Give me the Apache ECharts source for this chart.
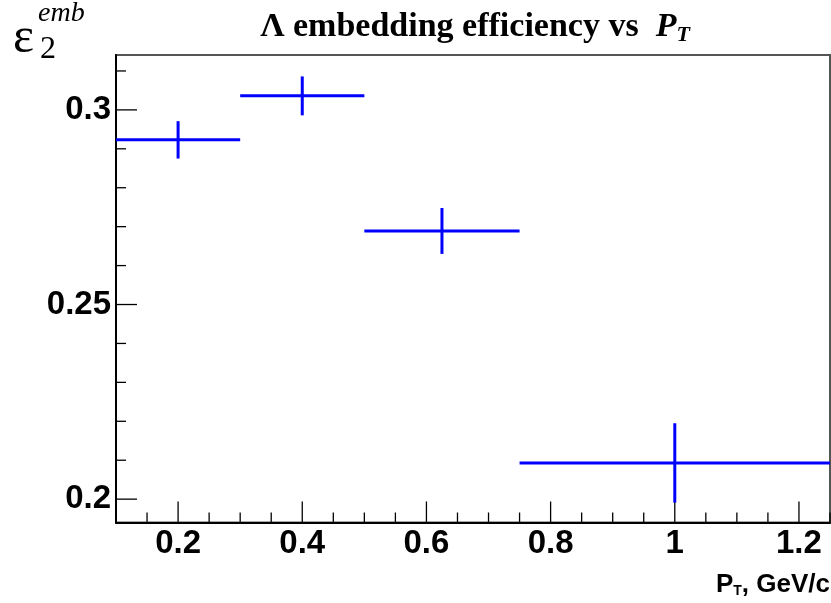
<!DOCTYPE html>
<html>
<head>
<meta charset="utf-8">
<script src="https://cdn.jsdelivr.net/npm/echarts@6/dist/echarts.min.js"></script>
<style>
html,body{margin:0;padding:0;background:#fff;}
#c{width:831px;height:603px;}
</style>
</head>
<body>
<div id="c"></div>
<script>
// ---- data ----
const binLow    = [0.1, 0.3, 0.5, 0.75];
const binHigh   = [0.3, 0.5, 0.75, 1.25];
const binCenter = [0.2, 0.4, 0.625, 1.0];
const effValues = [0.2923, 0.3036, 0.2689, 0.2093];
const effErrors = [0.0048, 0.0050, 0.0059, 0.0102];

const xMin = 0.1, xMax = 1.25;
const yMin = 0.194, yMax = 0.3141;

const xMajorTicks = [0.2, 0.4, 0.6, 0.8, 1.0, 1.2];
const xMinorTicks = [0.15, 0.25, 0.3, 0.35, 0.45, 0.5, 0.55, 0.65, 0.7, 0.75, 0.85, 0.9, 0.95, 1.05, 1.1, 1.15, 1.25];
const yMajorTicks = [0.2, 0.25, 0.3];
const yMinorTicks = [0.21, 0.22, 0.23, 0.24, 0.26, 0.27, 0.28, 0.29, 0.31];

const chart = echarts.init(document.getElementById('c'));

const points = binLow.map((l, i) => [l, binHigh[i], binCenter[i], effValues[i], effErrors[i]]);
const tickData = []
  .concat(xMajorTicks.map(v => [v, 0, 21]))
  .concat(xMinorTicks.map(v => [v, 0, 10]))
  .concat(yMajorTicks.map(v => [v, 1, 21]))
  .concat(yMinorTicks.map(v => [v, 1, 10]));

const blue = '#0000ff';

chart.setOption({
  animation: false,
  backgroundColor: '#ffffff',
  grid: {
    left: 116, right: 1, top: 55, bottom: 80.5,
    show: true, borderColor: '#555', borderWidth: 2, backgroundColor: 'transparent'
  },
  xAxis: {
    type: 'value', min: xMin, max: xMax, splitNumber: 5,
    axisLine: { show: true, onZero: false, lineStyle: { color: '#000', width: 2 } },
    axisTick: { show: false },
    splitLine: { show: false },
    axisLabel: {
      showMinLabel: false, showMaxLabel: false, margin: 5,
      color: '#000', fontFamily: 'Liberation Sans', fontWeight: 'bold', fontSize: 33,
      formatter: v => xMajorTicks.some(t => Math.abs(t - v) < 1e-6) ? String(+v.toFixed(2)) : ''
    }
  },
  yAxis: {
    type: 'value', min: yMin, max: yMax, splitNumber: 2,
    axisLine: { show: true, onZero: false, lineStyle: { color: '#000', width: 2 } },
    axisTick: { show: false },
    splitLine: { show: false },
    axisLabel: {
      showMinLabel: false, showMaxLabel: false, margin: 5,
      color: '#000', fontFamily: 'Liberation Sans', fontWeight: 'bold', fontSize: 33,
      formatter: v => yMajorTicks.some(t => Math.abs(t - v) < 1e-6) ? String(+v.toFixed(2)) : ''
    }
  },
  graphic: [
    {
      type: 'text', x: 475, y: 8,
      style: {
        align: 'center',
        text: '{a|Λ embedding efficiency vs  }{p|P}{s|T}',
        rich: {
          a: { fontFamily: 'Liberation Serif', fontWeight: 'bold', fontSize: 34, fill: '#000' },
          p: { fontFamily: 'Liberation Serif', fontWeight: 'bold', fontStyle: 'italic', fontSize: 34, fill: '#000' },
          s: { fontFamily: 'Liberation Serif', fontWeight: 'bold', fontStyle: 'italic', fontSize: 22, fill: '#000', padding: [16, 0, 0, 0] }
        }
      }
    },
    { type: 'text', left: 13, top: 14, style: { text: 'ε', fontFamily: 'Liberation Serif', fontSize: 50, fill: '#000' } },
    { type: 'text', left: 40, top: 34, style: { text: '2', fontFamily: 'Liberation Serif', fontSize: 32, fill: '#000' } },
    { type: 'text', left: 38, top: 0, style: { text: 'emb', fontFamily: 'Liberation Serif', fontStyle: 'italic', fontSize: 28, fill: '#000' } },
    {
      type: 'text', right: 1, top: 572,
      style: {
        text: '{a|P}{s|T}{a|, GeV/c}',
        rich: {
          a: { fontFamily: 'Liberation Sans', fontWeight: 'bold', fontSize: 26, fill: '#000' },
          s: { fontFamily: 'Liberation Sans', fontWeight: 'bold', fontSize: 14, fill: '#000', padding: [12, 0, 0, 0] }
        }
      }
    }
  ],
  series: [
    {
      type: 'custom', name: 'ticks', silent: true, clip: false, z: 5,
      data: tickData,
      renderItem: (params, api) => {
        const v = api.value(0), axis = api.value(1), len = api.value(2);
        let shape;
        if (axis === 0) {
          const p = api.coord([v, yMin]);
          shape = { x1: p[0], y1: p[1], x2: p[0], y2: p[1] - len };
        } else {
          const p = api.coord([xMin, v]);
          shape = { x1: p[0], y1: p[1], x2: p[0] + len, y2: p[1] };
        }
        return { type: 'line', shape: shape, style: { stroke: '#000', lineWidth: 1.3 } };
      }
    },
    {
      type: 'custom', name: 'efficiency', clip: false, z: 10,
      data: points,
      renderItem: (params, api) => {
        const xl = api.value(0), xh = api.value(1), xc = api.value(2), y = api.value(3), e = api.value(4);
        const a = api.coord([xl, y]), b = api.coord([xh, y]);
        const c = api.coord([xc, y - e]), d = api.coord([xc, y + e]);
        return {
          type: 'group',
          children: [
            { type: 'line', shape: { x1: a[0], y1: a[1], x2: b[0], y2: b[1] }, style: { stroke: blue, lineWidth: 3 } },
            { type: 'line', shape: { x1: c[0], y1: c[1], x2: d[0], y2: d[1] }, style: { stroke: blue, lineWidth: 3 } }
          ]
        };
      }
    }
  ]
});
</script>
</body>
</html>
